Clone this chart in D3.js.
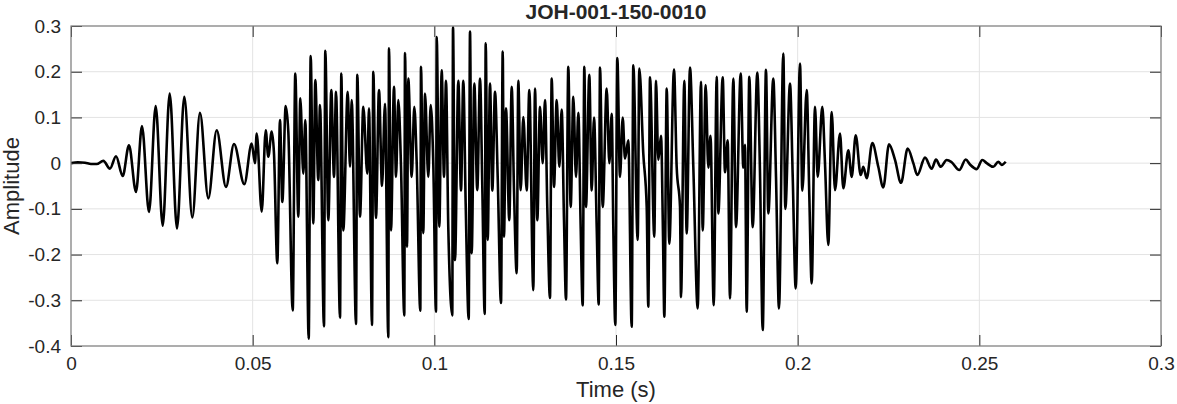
<!DOCTYPE html>
<html>
<head>
<meta charset="utf-8">
<script src="https://cdn.jsdelivr.net/npm/d3@7"></script>
<style>
  html, body { margin: 0; padding: 0; background: #fff; }
  svg text { font-family: "Liberation Sans", Arial, Helvetica, sans-serif; fill: #262626; }
</style>
</head>
<body>
<div id="chart"></div>
<script>
var width = 1177;
var height = 404;

var title = "JOH-001-150-0010";
var xLabel = "Time (s)";
var yLabel = "Amplitude";

var xTicks = [0, 0.05, 0.1, 0.15, 0.2, 0.25, 0.3];
var xTickLabels = ["0", "0.05", "0.1", "0.15", "0.2", "0.25", "0.3"];
var yTicks = [0.3, 0.2, 0.1, 0, -0.1, -0.2, -0.3, -0.4];
var yTickLabels = ["0.3", "0.2", "0.1", "0", "-0.1", "-0.2", "-0.3", "-0.4"];

// waveform: [time (s), amplitude], peaks and troughs only
var onset = [
  [0.00000, 0.000], [0.00190, 0.002], [0.00385, 0.001], [0.00550, -0.002],
  [0.00707, -0.002], [0.00889, 0.005], [0.01073, -0.012], [0.01239, 0.015],
  [0.01423, -0.028], [0.01596, 0.039], [0.01789, -0.063], [0.01954, 0.081],
  [0.02147, -0.107], [0.02331, 0.125], [0.02524, -0.137], [0.02717, 0.152],
  [0.02917, -0.143], [0.03118, 0.145], [0.03339, -0.119], [0.03550, 0.110],
  [0.03779, -0.077], [0.04010, 0.072], [0.04266, -0.052], [0.04486, 0.042],
  [0.04770, -0.046], [0.04973, 0.043], [0.05064, 0.000], [0.05111, 0.065],
  [0.05249, -0.106], [0.05359, 0.072], [0.05430, 0.014], [0.05524, 0.069],
  [0.05587, 0.021]
];

var voiced = [
  [0.05678, -0.219], [0.05752, 0.094], [0.05816, -0.085], [0.05909, 0.125], [0.05981, 0.069],
  [0.06102, -0.322], [0.06173, 0.196], [0.06256, -0.117], [0.06311, 0.142], [0.06394, -0.023], [0.06449, 0.094],
  [0.06542, -0.384], [0.06597, 0.234], [0.06669, -0.132], [0.06724, 0.182], [0.06806, -0.037], [0.06853, 0.127],
  [0.06963, -0.357], [0.06999, 0.246], [0.07082, -0.125], [0.07164, 0.160], [0.07239, -0.030], [0.07294, 0.156],
  [0.07404, -0.338], [0.07440, 0.196], [0.07494, -0.147], [0.07616, 0.156], [0.07679, -0.008], [0.07726, 0.138],
  [0.07844, -0.352], [0.07880, 0.193], [0.07954, -0.117], [0.08045, 0.123], [0.08155, -0.023], [0.08202, 0.120],
  [0.08284, -0.354], [0.08320, 0.200], [0.08394, -0.120], [0.08477, 0.160], [0.08560, -0.050], [0.08642, 0.130],
  [0.08733, -0.381], [0.08752, 0.251], [0.08807, -0.147], [0.08890, 0.167], [0.08945, -0.030], [0.09008, 0.138], [0.09083, -0.008],
  [0.09173, -0.333], [0.09193, 0.241], [0.09248, -0.183], [0.09283, 0.185], [0.09377, -0.030], [0.09449, 0.123], [0.09515, 0.000],
  [0.09614, -0.323], [0.09633, 0.211], [0.09696, -0.153], [0.09743, 0.152], [0.09834, -0.030], [0.09900, 0.127], [0.09971, 0.000],
  [0.10046, -0.325], [0.10065, 0.276], [0.10137, -0.139], [0.10203, 0.203], [0.10266, -0.030], [0.10321, 0.180], [0.10384, -0.140],
  [0.10494, -0.333], [0.10514, 0.297], [0.10569, -0.212], [0.10660, 0.180], [0.10734, -0.060], [0.10797, 0.180], [0.10863, -0.090],
  [0.10946, -0.341], [0.10982, 0.288], [0.11028, -0.197], [0.11100, 0.174], [0.11182, -0.059], [0.11257, 0.185], [0.11320, -0.050],
  [0.11386, -0.330], [0.11414, 0.262], [0.11469, -0.168], [0.11532, 0.174], [0.11596, -0.060], [0.11670, 0.156], [0.11744, -0.030],
  [0.11835, -0.306], [0.11882, 0.244], [0.11917, -0.161], [0.11972, 0.120], [0.12063, -0.125], [0.12129, 0.167], [0.12193, -0.060],
  [0.12267, -0.241], [0.12311, 0.180], [0.12377, -0.059], [0.12449, 0.101], [0.12542, -0.060], [0.12614, 0.160],
  [0.12724, -0.278], [0.12771, 0.163], [0.12834, -0.125], [0.12908, 0.123], [0.12983, 0.000], [0.13046, 0.138], [0.13109, -0.096],
  [0.13183, -0.295], [0.13230, 0.185], [0.13294, -0.052], [0.13368, 0.138], [0.13440, -0.008], [0.13505, 0.117], [0.13569, -0.125],
  [0.13624, -0.298], [0.13687, 0.211], [0.13753, -0.096], [0.13825, 0.145], [0.13899, -0.030], [0.13963, 0.110], [0.14028, -0.140],
  [0.14083, -0.311], [0.14128, 0.211], [0.14174, -0.096], [0.14265, 0.193], [0.14331, -0.060], [0.14395, 0.100], [0.14469, -0.140],
  [0.14524, -0.309], [0.14560, 0.209], [0.14634, -0.096], [0.14744, 0.163], [0.14816, 0.000], [0.14882, 0.108], [0.14926, -0.140],
  [0.14981, -0.354], [0.15036, 0.230], [0.15110, -0.030], [0.15184, 0.100], [0.15248, 0.010], [0.15339, 0.050],
  [0.15432, -0.358], [0.15476, 0.214], [0.15597, -0.168], [0.15641, 0.207], [0.15751, 0.021], [0.15845, -0.096],
  [0.15889, -0.314], [0.15936, 0.188], [0.16054, -0.161], [0.16101, 0.180], [0.16164, 0.007], [0.16239, 0.060], [0.16294, -0.160],
  [0.16330, -0.336], [0.16396, 0.163], [0.16467, -0.176], [0.16596, 0.205], [0.16670, -0.008], [0.16762, -0.096],
  [0.16789, -0.293], [0.16880, 0.180], [0.16946, -0.154], [0.17037, 0.209], [0.17128, -0.008],
  [0.17249, -0.318], [0.17339, 0.178], [0.17386, -0.147], [0.17468, 0.171], [0.17541, -0.010], [0.17601, 0.060],
  [0.17689, -0.311], [0.17772, 0.189], [0.17816, -0.110], [0.17937, 0.188], [0.18000, -0.020], [0.18074, 0.050],
  [0.18138, -0.296], [0.18229, 0.185], [0.18303, -0.140], [0.18432, 0.196], [0.18504, -0.010], [0.18550, 0.040],
  [0.18597, -0.325], [0.18669, 0.189], [0.18762, -0.140], [0.18889, 0.198], [0.18963, -0.020],
  [0.19038, -0.365], [0.19128, 0.204], [0.19192, -0.110], [0.19329, 0.185], [0.19404, -0.030],
  [0.19486, -0.318], [0.19605, 0.240], [0.19660, -0.100], [0.19789, 0.174], [0.19864, -0.030],
  [0.19946, -0.274], [0.20064, 0.218], [0.20128, -0.060], [0.20249, 0.160], [0.20320, -0.070],
  [0.20386, -0.263], [0.20477, 0.123], [0.20551, -0.030], [0.20678, 0.123], [0.20752, 0.000],
  [0.20843, -0.179]
];

var decay = [
  [0.20937, 0.112], [0.21028, -0.059], [0.21165, 0.065], [0.21256, -0.055], [0.21394, 0.028],
  [0.21487, -0.030], [0.21597, 0.061], [0.21735, -0.026], [0.21807, -0.008], [0.21900, -0.033],
  [0.22054, 0.044], [0.22219, -0.008], [0.22357, -0.053], [0.22514, 0.041], [0.22679, 0.007],
  [0.22844, -0.043], [0.23028, 0.032], [0.23183, 0.000], [0.23293, -0.026], [0.23505, 0.012],
  [0.23689, -0.012], [0.23807, 0.008], [0.23937, -0.008], [0.24101, 0.007], [0.24239, 0.002],
  [0.24449, -0.015], [0.24625, 0.008], [0.24743, -0.003], [0.24927, -0.013], [0.25082, 0.007],
  [0.25203, 0.000], [0.25384, -0.008], [0.25522, 0.003], [0.25615, -0.004], [0.25726, 0.003]
];

var waveform = onset.concat(voiced, decay);

var margin = {top: 26, right: 16, bottom: 58, left: 71};
var plotW = width - margin.left - margin.right;
var plotH = height - margin.top - margin.bottom;

var svg = d3.select("#chart")
    .append("svg")
    .attr("width", width)
    .attr("height", height);

var x = d3.scaleLinear().domain([0, 0.3]).range([0, plotW]);
var y = d3.scaleLinear().domain([-0.4, 0.3]).range([plotH, 0]);

var g = svg.append("g")
    .attr("transform", "translate(" + margin.left + "," + margin.top + ")");

// grid
g.append("g").selectAll("line")
    .data(xTicks)
    .enter().append("line")
    .attr("x1", d => x(d)).attr("x2", d => x(d))
    .attr("y1", 0).attr("y2", plotH)
    .attr("stroke", "#e3e3e3").attr("stroke-width", 1);
g.append("g").selectAll("line")
    .data(yTicks)
    .enter().append("line")
    .attr("y1", d => y(d)).attr("y2", d => y(d))
    .attr("x1", 0).attr("x2", plotW)
    .attr("stroke", "#e3e3e3").attr("stroke-width", 1);

g.append("defs").append("clipPath")
    .attr("id", "clip")
    .append("rect")
    .attr("width", plotW)
    .attr("height", plotH);

var line = d3.line()
    .curve(d3.curveMonotoneX)
    .x(d => x(d[0]))
    .y(d => y(d[1]));

g.append("path")
    .datum(waveform)
    .attr("clip-path", "url(#clip)")
    .attr("fill", "none")
    .attr("stroke", "#000")
    .attr("stroke-width", 2.6)
    .attr("stroke-linejoin", "round")
    .attr("d", line);

// axes, MATLAB style: ticks pointing inside, box on
var tickLen = 11;
var fmtX = d => xTickLabels[xTicks.indexOf(d)];
var fmtY = d => yTickLabels[yTicks.indexOf(d)];

function styleAxis(sel) {
    sel.select(".domain").remove();
    sel.selectAll(".tick line").attr("stroke", "#262626");
    sel.selectAll(".tick text")
        .style("font-size", "19px")
        .attr("fill", "#262626");
}

g.append("g")
    .attr("transform", "translate(0," + plotH + ")")
    .call(d3.axisBottom(x).tickValues(xTicks).tickFormat(fmtX).tickSizeInner(-tickLen).tickPadding(11))
    .call(styleAxis);
g.append("g")
    .call(d3.axisTop(x).tickValues(xTicks).tickFormat("").tickSizeInner(-tickLen))
    .call(styleAxis);
g.append("g")
    .call(d3.axisLeft(y).tickValues(yTicks).tickFormat(fmtY).tickSizeInner(-tickLen).tickPadding(10))
    .call(styleAxis);
g.append("g")
    .attr("transform", "translate(" + plotW + ",0)")
    .call(d3.axisRight(y).tickValues(yTicks).tickFormat("").tickSizeInner(-tickLen))
    .call(styleAxis);

g.append("rect")
    .attr("x", 0).attr("y", 0)
    .attr("width", plotW).attr("height", plotH)
    .attr("fill", "none")
    .attr("stroke", "#808080")
    .attr("stroke-width", 1.2);

// labels
svg.append("text")
    .attr("x", margin.left + plotW / 2)
    .attr("y", 19)
    .attr("text-anchor", "middle")
    .style("font-size", "21px")
    .style("font-weight", "bold")
    .text(title);

svg.append("text")
    .attr("x", margin.left + plotW / 2)
    .attr("y", 397)
    .attr("text-anchor", "middle")
    .style("font-size", "22px")
    .text(xLabel);

svg.append("text")
    .attr("transform", "translate(19," + (margin.top + plotH / 2) + ") rotate(-90)")
    .attr("text-anchor", "middle")
    .style("font-size", "22px")
    .text(yLabel);
</script>
</body>
</html>
